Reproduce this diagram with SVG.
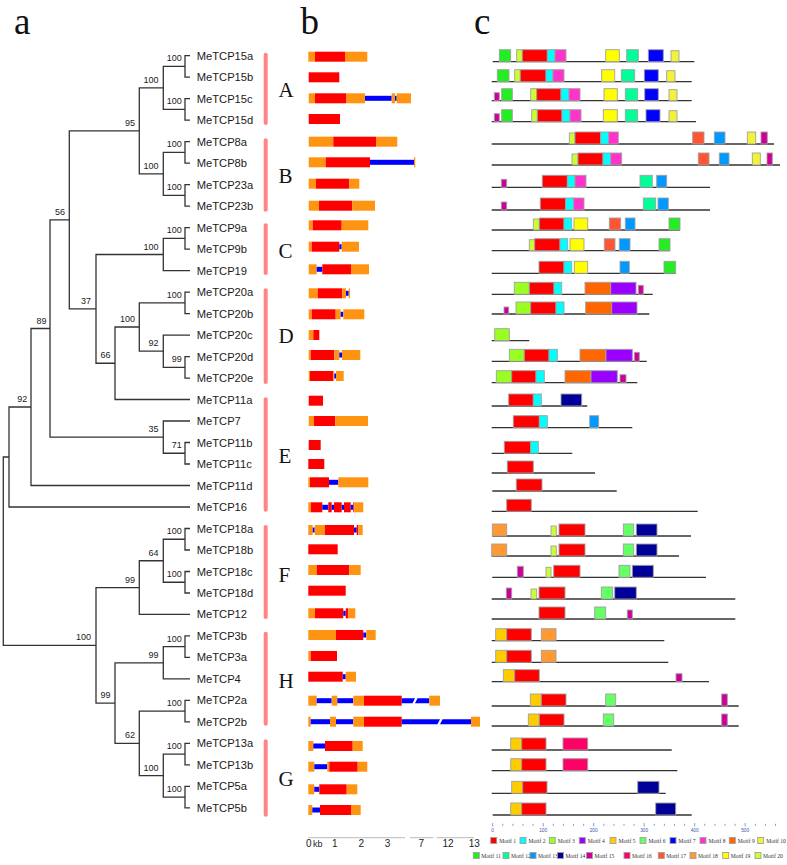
<svg xmlns="http://www.w3.org/2000/svg" width="787" height="865" viewBox="0 0 787 865">
<style>
.lbl{font-family:"Liberation Sans",Arial,sans-serif;font-size:11.2px;fill:#1a1a1a}
.bs{font-family:"Liberation Sans",Arial,sans-serif;font-size:9px;fill:#1a1a1a;text-anchor:end}
.tree path{fill:none;stroke:#333;stroke-width:1.3}
.grp{font-family:"Liberation Serif","Times New Roman",serif;font-size:21px;fill:#111}
.pan{font-family:"Liberation Serif","Times New Roman",serif;font-size:37px;fill:#111}
.gbar{fill:#ff8585}
.o{fill:#ff9412}.r{fill:#ff0000}.b{fill:#0000ff}
.pl{stroke:#333;stroke-width:1.3}
.mot rect,.leg rect{stroke:#a0a0a0;stroke-width:0.9}
.m1{fill:#ff0000}.m2{fill:#00ffff}.m3{fill:#99ff22}.m4{fill:#9900ff}.m5{fill:#ffcc00}
.m6{fill:#66ff66}.m7{fill:#0000ff}.m8{fill:#ff33cc}.m9{fill:#ff6600}.m10{fill:#f2f23a}
.m11{fill:#22ee22}.m12{fill:#00ff99}.m13{fill:#0099ff}.m14{fill:#000099}.m15{fill:#cc0099}
.m16{fill:#ff0066}.m17{fill:#ff5533}.m18{fill:#ff9933}.m19{fill:#ffff00}.m20{fill:#ccff33}
.lg{font-family:"Liberation Serif","Times New Roman",serif;font-size:5.6px;fill:#333}
.ax{font-family:"Liberation Sans",Arial,sans-serif;font-size:10px;fill:#222}
.max{font-family:"Liberation Sans",Arial,sans-serif;font-size:4.8px;fill:#4455aa;text-anchor:middle}
</style>
<rect width="787" height="865" fill="#fff"/>
<g id="panel-labels">
<text class="pan" x="14" y="34">a</text>
<text class="pan" x="300.5" y="34">b</text>
<text class="pan" x="474" y="34">c</text>
</g>
<g id="connectors" class="tree">
<path d="M190,55.7H185V77.2H190"/>
<path d="M190,98.7H185V120.2H190"/>
<path d="M185,66.45H163.3V109.45H185"/>
<path d="M190,141.7H185V163.2H190"/>
<path d="M190,184.6H185V206.1H190"/>
<path d="M185,152.45H163.3V195.35H185"/>
<path d="M163.3,87.95H139.3V173.9H163.3"/>
<path d="M190,227.6H185V249.1H190"/>
<path d="M185,238.35H163.3V270.6H190"/>
<path d="M190,292.1H185V313.6H190"/>
<path d="M190,356.6H185V378.1H190"/>
<path d="M190,335.1H163.3V367.35H185"/>
<path d="M185,302.85H139.3V351.2H163.3"/>
<path d="M139.3,327H115V399.5H190"/>
<path d="M163.3,254.5H96V363.25H115"/>
<path d="M139.3,130.9H69.3V308.9H96"/>
<path d="M190,442.5H185V464H190"/>
<path d="M190,421H163.3V453.25H185"/>
<path d="M69.3,219.9H50V437.1H163.3"/>
<path d="M50,328.5H31V485.5H190"/>
<path d="M31,407H9V507H190"/>
<path d="M190,528.5H185V550H190"/>
<path d="M190,571.5H185V593H190"/>
<path d="M185,539.25H163.3V582.25H185"/>
<path d="M163.3,560.75H139.3V614.4H190"/>
<path d="M190,635.9H185V657.4H190"/>
<path d="M185,646.65H163.3V678.9H190"/>
<path d="M190,700.4H185V721.9H190"/>
<path d="M190,743.4H185V764.9H190"/>
<path d="M190,786.4H185V807.9H190"/>
<path d="M185,754.15H163.3V797.15H185"/>
<path d="M185,711.15H139.3V775.65H163.3"/>
<path d="M163.3,662.8H115V743.4H139.3"/>
<path d="M139.3,587.6H96V703.1H115"/>
<path d="M9,457H3.3V645.35H96"/>
</g>
<g id="bootstrap">
<text class="bs" x="181.7" y="61.4">100</text>
<text class="bs" x="181.7" y="104.4">100</text>
<text class="bs" x="158.5" y="82.9">100</text>
<text class="bs" x="181.7" y="147.4">100</text>
<text class="bs" x="181.7" y="190.3">100</text>
<text class="bs" x="158.5" y="168.9">100</text>
<text class="bs" x="135" y="125.9">95</text>
<text class="bs" x="181.7" y="233.3">100</text>
<text class="bs" x="158.5" y="249.5">100</text>
<text class="bs" x="181.7" y="297.8">100</text>
<text class="bs" x="181.7" y="362.3">99</text>
<text class="bs" x="158.5" y="346.2">92</text>
<text class="bs" x="135" y="322">100</text>
<text class="bs" x="110.5" y="358.2">66</text>
<text class="bs" x="91" y="303.9">37</text>
<text class="bs" x="65" y="214.9">56</text>
<text class="bs" x="181.7" y="448.2">71</text>
<text class="bs" x="158.5" y="432.1">35</text>
<text class="bs" x="46.5" y="323.5">89</text>
<text class="bs" x="27.3" y="402">92</text>
<text class="bs" x="181.7" y="534.2">100</text>
<text class="bs" x="181.7" y="577.2">100</text>
<text class="bs" x="158.5" y="555.7">64</text>
<text class="bs" x="135" y="582.6">99</text>
<text class="bs" x="181.7" y="641.6">100</text>
<text class="bs" x="158.5" y="657.8">99</text>
<text class="bs" x="181.7" y="706.1">100</text>
<text class="bs" x="181.7" y="749.1">100</text>
<text class="bs" x="181.7" y="792.1">100</text>
<text class="bs" x="158.5" y="770.6">100</text>
<text class="bs" x="135" y="738.4">62</text>
<text class="bs" x="110.5" y="698.1">99</text>
<text class="bs" x="91" y="640.3">100</text>
</g>
<g id="nodes">
<g id="n-MeTCP15a"><text class="lbl" x="196.7" y="59.7">MeTCP15a</text></g>
<g id="n-MeTCP15b"><text class="lbl" x="196.7" y="81.2">MeTCP15b</text></g>
<g id="n-MeTCP15c"><text class="lbl" x="196.7" y="102.7">MeTCP15c</text></g>
<g id="n-MeTCP15d"><text class="lbl" x="196.7" y="124.2">MeTCP15d</text></g>
<g id="n-MeTCP8a"><text class="lbl" x="196.7" y="145.7">MeTCP8a</text></g>
<g id="n-MeTCP8b"><text class="lbl" x="196.7" y="167.2">MeTCP8b</text></g>
<g id="n-MeTCP23a"><text class="lbl" x="196.7" y="188.6">MeTCP23a</text></g>
<g id="n-MeTCP23b"><text class="lbl" x="196.7" y="210.1">MeTCP23b</text></g>
<g id="n-MeTCP9a"><text class="lbl" x="196.7" y="231.6">MeTCP9a</text></g>
<g id="n-MeTCP9b"><text class="lbl" x="196.7" y="253.1">MeTCP9b</text></g>
<g id="n-MeTCP19"><text class="lbl" x="196.7" y="274.6">MeTCP19</text></g>
<g id="n-MeTCP20a"><text class="lbl" x="196.7" y="296.1">MeTCP20a</text></g>
<g id="n-MeTCP20b"><text class="lbl" x="196.7" y="317.6">MeTCP20b</text></g>
<g id="n-MeTCP20c"><text class="lbl" x="196.7" y="339.1">MeTCP20c</text></g>
<g id="n-MeTCP20d"><text class="lbl" x="196.7" y="360.6">MeTCP20d</text></g>
<g id="n-MeTCP20e"><text class="lbl" x="196.7" y="382.1">MeTCP20e</text></g>
<g id="n-MeTCP11a"><text class="lbl" x="196.7" y="403.5">MeTCP11a</text></g>
<g id="n-MeTCP7"><text class="lbl" x="196.7" y="425">MeTCP7</text></g>
<g id="n-MeTCP11b"><text class="lbl" x="196.7" y="446.5">MeTCP11b</text></g>
<g id="n-MeTCP11c"><text class="lbl" x="196.7" y="468">MeTCP11c</text></g>
<g id="n-MeTCP11d"><text class="lbl" x="196.7" y="489.5">MeTCP11d</text></g>
<g id="n-MeTCP16"><text class="lbl" x="196.7" y="511">MeTCP16</text></g>
<g id="n-MeTCP18a"><text class="lbl" x="196.7" y="532.5">MeTCP18a</text></g>
<g id="n-MeTCP18b"><text class="lbl" x="196.7" y="554">MeTCP18b</text></g>
<g id="n-MeTCP18c"><text class="lbl" x="196.7" y="575.5">MeTCP18c</text></g>
<g id="n-MeTCP18d"><text class="lbl" x="196.7" y="597">MeTCP18d</text></g>
<g id="n-MeTCP12"><text class="lbl" x="196.7" y="618.4">MeTCP12</text></g>
<g id="n-MeTCP3b"><text class="lbl" x="196.7" y="639.9">MeTCP3b</text></g>
<g id="n-MeTCP3a"><text class="lbl" x="196.7" y="661.4">MeTCP3a</text></g>
<g id="n-MeTCP4"><text class="lbl" x="196.7" y="682.9">MeTCP4</text></g>
<g id="n-MeTCP2a"><text class="lbl" x="196.7" y="704.4">MeTCP2a</text></g>
<g id="n-MeTCP2b"><text class="lbl" x="196.7" y="725.9">MeTCP2b</text></g>
<g id="n-MeTCP13a"><text class="lbl" x="196.7" y="747.4">MeTCP13a</text></g>
<g id="n-MeTCP13b"><text class="lbl" x="196.7" y="768.9">MeTCP13b</text></g>
<g id="n-MeTCP5a"><text class="lbl" x="196.7" y="790.4">MeTCP5a</text></g>
<g id="n-MeTCP5b"><text class="lbl" x="196.7" y="811.9">MeTCP5b</text></g>
</g>
<g id="groups">
<rect class="gbar" x="263.7" y="52.7" width="4" height="72.3" rx="2"/>
<rect class="gbar" x="263.7" y="138.3" width="4" height="73.4" rx="2"/>
<rect class="gbar" x="263.7" y="223.3" width="4" height="51.7" rx="2"/>
<rect class="gbar" x="263.7" y="288.3" width="4" height="95.7" rx="2"/>
<rect class="gbar" x="263.7" y="397.3" width="4" height="114.4" rx="2"/>
<rect class="gbar" x="263.7" y="525" width="4" height="94" rx="2"/>
<rect class="gbar" x="263.7" y="631.7" width="4" height="94" rx="2"/>
<rect class="gbar" x="263.7" y="739.3" width="4" height="77.4" rx="2"/>
<text class="grp" x="278.5" y="96.7">A</text>
<text class="grp" x="278.5" y="183.3">B</text>
<text class="grp" x="278.5" y="258">C</text>
<text class="grp" x="278.5" y="343.3">D</text>
<text class="grp" x="278.5" y="463.3">E</text>
<text class="grp" x="278.5" y="581.7">F</text>
<text class="grp" x="278.5" y="688.3">H</text>
<text class="grp" x="278.5" y="786">G</text>
</g>
<g id="gene-structures">
<g transform="translate(0,56.7)"><rect class="o" x="308.3" y="-5" width="6.7" height="10"/><rect class="r" x="315" y="-5" width="30" height="10"/><rect class="o" x="345" y="-5" width="22.3" height="10"/></g>
<g transform="translate(0,77.3)"><rect class="r" x="308.7" y="-5" width="30.6" height="10"/></g>
<g transform="translate(0,98.3)"><rect class="o" x="308.7" y="-5" width="6.3" height="10"/><rect class="r" x="315" y="-5" width="31" height="10"/><rect class="o" x="346" y="-5" width="19" height="10"/><rect class="b" x="365" y="-2.5" width="26.7" height="5"/><rect class="o" x="391.7" y="-5" width="3.3" height="10"/><rect class="b" x="395" y="-2.5" width="1.7" height="5"/><rect class="o" x="396.7" y="-5" width="14.3" height="10"/></g>
<g transform="translate(0,119)"><rect class="r" x="308.7" y="-5" width="31.3" height="10"/></g>
<g transform="translate(0,141.7)"><rect class="o" x="308.7" y="-5" width="24.6" height="10"/><rect class="r" x="333.3" y="-5" width="42.7" height="10"/><rect class="o" x="376" y="-5" width="21.3" height="10"/></g>
<g transform="translate(0,162.3)"><rect class="o" x="308.7" y="-5" width="17" height="10"/><rect class="r" x="325.7" y="-5" width="44.3" height="10"/><rect class="b" x="370" y="-2.5" width="44" height="5"/><rect class="o" x="414" y="-5" width="1.3" height="10"/></g>
<g transform="translate(0,183.7)"><rect class="o" x="308.7" y="-5" width="7.3" height="10"/><rect class="r" x="316" y="-5" width="33.3" height="10"/><rect class="o" x="349.3" y="-5" width="10" height="10"/></g>
<g transform="translate(0,205.7)"><rect class="o" x="308.7" y="-5" width="10.3" height="10"/><rect class="r" x="319" y="-5" width="33.3" height="10"/><rect class="o" x="352.3" y="-5" width="22.7" height="10"/></g>
<g transform="translate(0,225.3)"><rect class="o" x="308.7" y="-5" width="4" height="10"/><rect class="r" x="312.7" y="-5" width="29" height="10"/><rect class="o" x="341.7" y="-5" width="26.6" height="10"/></g>
<g transform="translate(0,246.7)"><rect class="o" x="308.7" y="-5" width="3" height="10"/><rect class="r" x="311.7" y="-5" width="27.6" height="10"/><rect class="b" x="339.3" y="-2.5" width="2.4" height="5"/><rect class="o" x="341.7" y="-5" width="17.3" height="10"/></g>
<g transform="translate(0,269.3)"><rect class="o" x="308.7" y="-5" width="8" height="10"/><rect class="b" x="316.7" y="-2.5" width="5.6" height="5"/><rect class="r" x="322.3" y="-5" width="28.7" height="10"/><rect class="o" x="351" y="-5" width="18" height="10"/></g>
<g transform="translate(0,293.3)"><rect class="o" x="308.7" y="-5" width="9" height="10"/><rect class="r" x="317.7" y="-5" width="24.6" height="10"/><rect class="o" x="342.3" y="-5" width="3.7" height="10"/><rect class="b" x="346" y="-2.5" width="2.7" height="5"/><rect class="o" x="348.7" y="-5" width="1.3" height="10"/></g>
<g transform="translate(0,314.3)"><rect class="o" x="308.7" y="-5" width="3" height="10"/><rect class="r" x="311.7" y="-5" width="24" height="10"/><rect class="o" x="335.7" y="-5" width="5" height="10"/><rect class="b" x="340.7" y="-2.5" width="2.6" height="5"/><rect class="o" x="343.3" y="-5" width="21" height="10"/></g>
<g transform="translate(0,335)"><rect class="o" x="308.7" y="-5" width="4.6" height="10"/><rect class="r" x="313.3" y="-5" width="6" height="10"/></g>
<g transform="translate(0,355)"><rect class="o" x="308.7" y="-5" width="2" height="10"/><rect class="r" x="310.7" y="-5" width="23.6" height="10"/><rect class="o" x="334.3" y="-5" width="5" height="10"/><rect class="b" x="339.3" y="-2.5" width="2.7" height="5"/><rect class="o" x="342" y="-5" width="18.3" height="10"/></g>
<g transform="translate(0,376)"><rect class="o" x="308.7" y="-5" width="1.3" height="10"/><rect class="r" x="310" y="-5" width="23.3" height="10"/><rect class="o" x="333.3" y="-5" width="1" height="10"/><rect class="b" x="334.3" y="-2.5" width="1.7" height="5"/><rect class="o" x="336" y="-5" width="7.7" height="10"/></g>
<g transform="translate(0,400.7)"><rect class="r" x="308.7" y="-5" width="14.3" height="10"/></g>
<g transform="translate(0,421)"><rect class="o" x="308.7" y="-5" width="5.3" height="10"/><rect class="r" x="314" y="-5" width="21.3" height="10"/><rect class="o" x="335.3" y="-5" width="32.7" height="10"/></g>
<g transform="translate(0,445)"><rect class="r" x="308.7" y="-5" width="12" height="10"/></g>
<g transform="translate(0,464)"><rect class="r" x="308.3" y="-5" width="16" height="10"/></g>
<g transform="translate(0,482.3)"><rect class="o" x="308.3" y="-5" width="1.7" height="10"/><rect class="r" x="310" y="-5" width="19" height="10"/><rect class="b" x="329" y="-2.5" width="9.3" height="5"/><rect class="o" x="338.3" y="-5" width="30" height="10"/></g>
<g transform="translate(0,507.3)"><rect class="o" x="308.3" y="-5" width="2.7" height="10"/><rect class="r" x="311" y="-5" width="11.3" height="10"/><rect class="b" x="322.3" y="-2.5" width="6" height="5"/><rect class="r" x="328.3" y="-5" width="3.4" height="10"/><rect class="b" x="331.7" y="-2.5" width="2.3" height="5"/><rect class="r" x="334" y="-5" width="7.7" height="10"/><rect class="b" x="341.7" y="-2.5" width="2.3" height="5"/><rect class="r" x="344" y="-5" width="6.7" height="10"/><rect class="b" x="350.7" y="-2.5" width="2.6" height="5"/><rect class="r" x="353.3" y="-5" width="1" height="10"/><rect class="o" x="354.3" y="-5" width="9" height="10"/></g>
<g transform="translate(0,530)"><rect class="o" x="308.3" y="-5" width="4.4" height="10"/><rect class="b" x="312.7" y="-2.5" width="2" height="5"/><rect class="o" x="314.7" y="-5" width="10.3" height="10"/><rect class="r" x="325" y="-5" width="29" height="10"/><rect class="b" x="354" y="-2.5" width="2.7" height="5"/><rect class="r" x="356.7" y="-5" width="1.6" height="10"/><rect class="o" x="358.3" y="-5" width="4.4" height="10"/></g>
<g transform="translate(0,549.3)"><rect class="r" x="308.3" y="-5" width="29.4" height="10"/></g>
<g transform="translate(0,570)"><rect class="o" x="308.3" y="-5" width="8.4" height="10"/><rect class="r" x="316.7" y="-5" width="32.6" height="10"/><rect class="o" x="349.3" y="-5" width="11.4" height="10"/></g>
<g transform="translate(0,590.7)"><rect class="r" x="308.3" y="-5" width="37.4" height="10"/></g>
<g transform="translate(0,613.3)"><rect class="o" x="308.3" y="-5" width="6.7" height="10"/><rect class="r" x="315" y="-5" width="28.3" height="10"/><rect class="b" x="343.3" y="-2.5" width="2.4" height="5"/><rect class="r" x="345.7" y="-5" width="2.6" height="10"/><rect class="o" x="348.3" y="-5" width="7" height="10"/></g>
<g transform="translate(0,635)"><rect class="o" x="308.3" y="-5" width="27.7" height="10"/><rect class="r" x="336" y="-5" width="27.3" height="10"/><rect class="b" x="363.3" y="-2.5" width="3" height="5"/><rect class="o" x="366.3" y="-5" width="9.4" height="10"/></g>
<g transform="translate(0,656)"><rect class="o" x="308.3" y="-5" width="2.4" height="10"/><rect class="r" x="310.7" y="-5" width="26.3" height="10"/></g>
<g transform="translate(0,676.7)"><rect class="r" x="308.3" y="-5" width="34.4" height="10"/><rect class="b" x="342.7" y="-2.5" width="3" height="5"/><rect class="o" x="345.7" y="-5" width="10.3" height="10"/></g>
<g transform="translate(0,700.7)"><rect class="o" x="308.3" y="-5" width="8.4" height="10"/><rect class="b" x="316.7" y="-2.5" width="15" height="5"/><rect class="o" x="331.7" y="-5" width="5.6" height="10"/><rect class="b" x="337.3" y="-2.5" width="16" height="5"/><rect class="o" x="353.3" y="-5" width="10.7" height="10"/><rect class="r" x="364" y="-5" width="37.7" height="10"/><polygon class="b" points="401.7,-2.5 415,-2.5 412.5,2.5 401.7,2.5"/><polygon class="b" points="417.5,-2.5 429.3,-2.5 429.3,2.5 415,2.5"/><rect class="o" x="429.3" y="-5" width="10.7" height="10"/></g>
<g transform="translate(0,721.7)"><rect class="o" x="308.3" y="-5" width="2.4" height="10"/><rect class="b" x="310.7" y="-2.5" width="19.3" height="5"/><rect class="o" x="330" y="-5" width="6" height="10"/><rect class="b" x="336" y="-2.5" width="17.3" height="5"/><rect class="o" x="353.3" y="-5" width="10.7" height="10"/><rect class="r" x="364" y="-5" width="37.7" height="10"/><polygon class="b" points="401.7,-2.5 440,-2.5 437.5,2.5 401.7,2.5"/><polygon class="b" points="442.5,-2.5 471,-2.5 471,2.5 440,2.5"/><rect class="o" x="471" y="-5" width="9" height="10"/></g>
<g transform="translate(0,746)"><rect class="o" x="308.3" y="-5" width="5" height="10"/><rect class="b" x="313.3" y="-2.5" width="11.7" height="5"/><rect class="r" x="325" y="-5" width="27.7" height="10"/><rect class="o" x="352.7" y="-5" width="10" height="10"/></g>
<g transform="translate(0,766.7)"><rect class="o" x="308.3" y="-5" width="6" height="10"/><rect class="b" x="314.3" y="-2.5" width="13" height="5"/><rect class="o" x="327.3" y="-5" width="2" height="10"/><rect class="r" x="329.3" y="-5" width="28.4" height="10"/><rect class="o" x="357.7" y="-5" width="9.6" height="10"/></g>
<g transform="translate(0,789.3)"><rect class="o" x="308.3" y="-5" width="6" height="10"/><rect class="b" x="314.3" y="-2.5" width="5" height="5"/><rect class="r" x="319.3" y="-5" width="27.4" height="10"/><rect class="o" x="346.7" y="-5" width="10.6" height="10"/></g>
<g transform="translate(0,810)"><rect class="o" x="308.3" y="-5" width="4" height="10"/><rect class="b" x="312.3" y="-2.5" width="7.7" height="5"/><rect class="r" x="320" y="-5" width="31" height="10"/><rect class="o" x="351" y="-5" width="9.7" height="10"/></g>
</g>
<g id="kb-axis">
<path d="M308.3,837.7H405M410,837.7H433.3M436.7,837.7H474" stroke="#c8c8c8" stroke-width="1.2" fill="none"/>
<text class="ax" x="305.9" y="847.3">0</text>
<text class="ax" x="313" y="847.3" style="font-size:9px">kb</text>
<text class="ax" x="334.7" y="847.3" text-anchor="middle">1</text>
<text class="ax" x="361.2" y="847.3" text-anchor="middle">2</text>
<text class="ax" x="387.5" y="847.3" text-anchor="middle">3</text>
<text class="ax" x="421.2" y="847.3" text-anchor="middle">7</text>
<text class="ax" x="448" y="847.3" text-anchor="middle">12</text>
<text class="ax" x="474.2" y="847.3" text-anchor="middle">13</text>
</g>
<g id="motifs" class="mot">
<g transform="translate(0,61.7)"><line class="pl" x1="492.7" x2="694.3" y1="0" y2="0"/><rect class="m11" x="499.3" y="-12" width="11.4" height="12"/><rect class="m20" x="516.7" y="-12" width="5.6" height="12"/><rect class="m1" x="522.3" y="-12" width="25" height="12"/><rect class="m2" x="547.3" y="-12" width="7.7" height="12"/><rect class="m8" x="555" y="-12" width="11" height="12"/><rect class="m19" x="605.7" y="-12" width="13.6" height="12"/><rect class="m12" x="626.7" y="-12" width="11.6" height="12"/><rect class="m7" x="648.3" y="-12" width="15" height="12"/><rect class="m10" x="671" y="-11" width="8" height="11"/></g>
<g transform="translate(0,81.7)"><line class="pl" x1="491.7" x2="691.7" y1="0" y2="0"/><rect class="m11" x="497.3" y="-12" width="11.7" height="12"/><rect class="m20" x="514.7" y="-12" width="5.6" height="12"/><rect class="m1" x="520.3" y="-12" width="25.7" height="12"/><rect class="m2" x="546" y="-12" width="7" height="12"/><rect class="m8" x="553" y="-12" width="11" height="12"/><rect class="m19" x="601.7" y="-12" width="13" height="12"/><rect class="m12" x="621.3" y="-12" width="13.4" height="12"/><rect class="m7" x="644.3" y="-12" width="14" height="12"/><rect class="m10" x="666.7" y="-11" width="8.3" height="11"/></g>
<g transform="translate(0,100.7)"><line class="pl" x1="491.7" x2="691.7" y1="0" y2="0"/><rect class="m15" x="494.3" y="-8" width="5" height="8"/><rect class="m11" x="501.7" y="-12" width="10.6" height="12"/><rect class="m20" x="530.7" y="-12" width="6" height="12"/><rect class="m1" x="536.7" y="-12" width="24.3" height="12"/><rect class="m2" x="561" y="-12" width="8" height="12"/><rect class="m8" x="569" y="-12" width="11" height="12"/><rect class="m19" x="604" y="-12" width="13.3" height="12"/><rect class="m12" x="625.3" y="-12" width="12.4" height="12"/><rect class="m7" x="644.7" y="-12" width="13.6" height="12"/><rect class="m10" x="669" y="-11" width="8" height="11"/></g>
<g transform="translate(0,121.7)"><line class="pl" x1="491.7" x2="696" y1="0" y2="0"/><rect class="m15" x="494.3" y="-8" width="5" height="8"/><rect class="m11" x="501.7" y="-12" width="10.6" height="12"/><rect class="m20" x="531.7" y="-12" width="5.6" height="12"/><rect class="m1" x="537.3" y="-12" width="24.7" height="12"/><rect class="m2" x="562" y="-12" width="8" height="12"/><rect class="m8" x="570" y="-12" width="11" height="12"/><rect class="m19" x="603.3" y="-12" width="14" height="12"/><rect class="m12" x="625.3" y="-12" width="12.4" height="12"/><rect class="m7" x="646" y="-12" width="14" height="12"/><rect class="m10" x="669" y="-11" width="8" height="11"/></g>
<g transform="translate(0,144)"><line class="pl" x1="491.7" x2="774" y1="0" y2="0"/><rect class="m20" x="569.3" y="-11" width="5.7" height="11"/><rect class="m1" x="575" y="-12" width="25.7" height="12"/><rect class="m2" x="600.7" y="-12" width="8" height="12"/><rect class="m8" x="608.7" y="-12" width="9.6" height="12"/><rect class="m17" x="692.7" y="-12" width="11.3" height="12"/><rect class="m13" x="714.3" y="-12" width="10.7" height="12"/><rect class="m10" x="747.3" y="-12" width="8.4" height="12"/><rect class="m15" x="761" y="-12" width="6.3" height="12"/></g>
<g transform="translate(0,165)"><line class="pl" x1="491.7" x2="780" y1="0" y2="0"/><rect class="m20" x="572" y="-11" width="6" height="11"/><rect class="m1" x="578" y="-12" width="25" height="12"/><rect class="m2" x="603" y="-12" width="7.7" height="12"/><rect class="m8" x="610.7" y="-12" width="11" height="12"/><rect class="m17" x="698.3" y="-12" width="10.7" height="12"/><rect class="m13" x="719.3" y="-12" width="9.7" height="12"/><rect class="m10" x="752.3" y="-12" width="8" height="12"/><rect class="m15" x="767" y="-12" width="5.3" height="12"/></g>
<g transform="translate(0,187.3)"><line class="pl" x1="491.7" x2="710" y1="0" y2="0"/><rect class="m15" x="501.3" y="-8" width="5.4" height="8"/><rect class="m1" x="542.3" y="-12" width="25" height="12"/><rect class="m2" x="567.3" y="-12" width="7.7" height="12"/><rect class="m8" x="575" y="-12" width="11" height="12"/><rect class="m12" x="640" y="-12" width="12.3" height="12"/><rect class="m13" x="656.7" y="-12" width="10" height="12"/></g>
<g transform="translate(0,210)"><line class="pl" x1="491.7" x2="710" y1="0" y2="0"/><rect class="m15" x="501.3" y="-8" width="5.4" height="8"/><rect class="m1" x="540.3" y="-12" width="25.4" height="12"/><rect class="m2" x="565.7" y="-12" width="8" height="12"/><rect class="m8" x="573.7" y="-12" width="10.3" height="12"/><rect class="m12" x="643.3" y="-12" width="12.4" height="12"/><rect class="m13" x="658" y="-12" width="10.3" height="12"/></g>
<g transform="translate(0,230)"><line class="pl" x1="491.7" x2="680" y1="0" y2="0"/><rect class="m20" x="533.3" y="-11" width="6" height="11"/><rect class="m1" x="539.3" y="-12" width="24.7" height="12"/><rect class="m2" x="564" y="-12" width="7.7" height="12"/><rect class="m19" x="574" y="-12" width="13.7" height="12"/><rect class="m17" x="609.3" y="-12" width="11.4" height="12"/><rect class="m13" x="625.3" y="-12" width="9.7" height="12"/><rect class="m11" x="669" y="-12" width="11" height="12"/></g>
<g transform="translate(0,250.7)"><line class="pl" x1="491.7" x2="670" y1="0" y2="0"/><rect class="m20" x="529.3" y="-11" width="5.4" height="11"/><rect class="m1" x="534.7" y="-12" width="25.3" height="12"/><rect class="m2" x="560" y="-12" width="7.7" height="12"/><rect class="m19" x="570" y="-12" width="14" height="12"/><rect class="m17" x="604.3" y="-12" width="10.7" height="12"/><rect class="m13" x="619.3" y="-12" width="10.7" height="12"/><rect class="m11" x="659" y="-12" width="11" height="12"/></g>
<g transform="translate(0,273.3)"><line class="pl" x1="491.7" x2="675.7" y1="0" y2="0"/><rect class="m1" x="539" y="-12" width="25" height="12"/><rect class="m2" x="564" y="-12" width="7.7" height="12"/><rect class="m19" x="574.3" y="-12" width="13.4" height="12"/><rect class="m13" x="620" y="-12" width="9.3" height="12"/><rect class="m11" x="664" y="-12" width="11.7" height="12"/></g>
<g transform="translate(0,294.3)"><line class="pl" x1="491.7" x2="652.7" y1="0" y2="0"/><rect class="m3" x="514.3" y="-12" width="15" height="12"/><rect class="m1" x="529.3" y="-12" width="24.7" height="12"/><rect class="m2" x="554" y="-12" width="7.7" height="12"/><rect class="m9" x="585" y="-12" width="25.7" height="12"/><rect class="m4" x="610.7" y="-12" width="25.3" height="12"/><rect class="m15" x="638.3" y="-9" width="5" height="9"/></g>
<g transform="translate(0,314)"><line class="pl" x1="491.7" x2="649.3" y1="0" y2="0"/><rect class="m15" x="504" y="-7" width="4.7" height="7"/><rect class="m3" x="516" y="-12" width="14.7" height="12"/><rect class="m1" x="530.7" y="-12" width="25.3" height="12"/><rect class="m2" x="556" y="-12" width="8" height="12"/><rect class="m9" x="585.7" y="-12" width="26" height="12"/><rect class="m4" x="611.7" y="-12" width="25.3" height="12"/></g>
<g transform="translate(0,340.7)"><line class="pl" x1="491.7" x2="529.3" y1="0" y2="0"/><rect class="m3" x="494.7" y="-12" width="14.6" height="12"/></g>
<g transform="translate(0,361.3)"><line class="pl" x1="491.7" x2="646.7" y1="0" y2="0"/><rect class="m3" x="509.3" y="-12" width="15" height="12"/><rect class="m1" x="524.3" y="-12" width="24.7" height="12"/><rect class="m2" x="549" y="-12" width="8.3" height="12"/><rect class="m9" x="580" y="-12" width="26" height="12"/><rect class="m4" x="606" y="-12" width="26.3" height="12"/><rect class="m15" x="634.3" y="-9" width="5" height="9"/></g>
<g transform="translate(0,382.7)"><line class="pl" x1="491.7" x2="637.3" y1="0" y2="0"/><rect class="m3" x="496.3" y="-12" width="15.4" height="12"/><rect class="m1" x="511.7" y="-12" width="24.3" height="12"/><rect class="m2" x="536" y="-12" width="8.3" height="12"/><rect class="m9" x="565" y="-12" width="26" height="12"/><rect class="m4" x="591" y="-12" width="26.3" height="12"/><rect class="m15" x="620" y="-8" width="6" height="8"/></g>
<g transform="translate(0,406)"><line class="pl" x1="491.7" x2="587.3" y1="0" y2="0"/><rect class="m1" x="508.7" y="-12" width="24.6" height="12"/><rect class="m2" x="533.3" y="-12" width="8" height="12"/><rect class="m14" x="561" y="-12" width="20.7" height="12"/></g>
<g transform="translate(0,427.7)"><line class="pl" x1="491.7" x2="632.3" y1="0" y2="0"/><rect class="m1" x="513.3" y="-12" width="26" height="12"/><rect class="m2" x="539.3" y="-12" width="8" height="12"/><rect class="m13" x="589.7" y="-12" width="9" height="12"/></g>
<g transform="translate(0,453.3)"><line class="pl" x1="491.7" x2="572.3" y1="0" y2="0"/><rect class="m1" x="504.3" y="-12" width="26.4" height="12"/><rect class="m2" x="530.7" y="-12" width="7.6" height="12"/></g>
<g transform="translate(0,473)"><line class="pl" x1="491.7" x2="595" y1="0" y2="0"/><rect class="m1" x="507.3" y="-12" width="26" height="12"/></g>
<g transform="translate(0,491)"><line class="pl" x1="492.3" x2="616.7" y1="0" y2="0"/><rect class="m1" x="516.3" y="-12" width="25.7" height="12"/></g>
<g transform="translate(0,511.3)"><line class="pl" x1="491.7" x2="697.7" y1="0" y2="0"/><rect class="m1" x="506.7" y="-12" width="24.6" height="12"/></g>
<g transform="translate(0,536)"><line class="pl" x1="492.3" x2="691" y1="0" y2="0"/><rect class="m18" x="492.3" y="-12" width="14.4" height="12"/><rect class="m20" x="551" y="-10" width="5.3" height="10"/><rect class="m1" x="559" y="-12" width="26" height="12"/><rect class="m6" x="623.3" y="-12" width="10.4" height="12"/><rect class="m14" x="636.3" y="-12" width="20.7" height="12"/></g>
<g transform="translate(0,556)"><line class="pl" x1="491.7" x2="679" y1="0" y2="0"/><rect class="m18" x="491.7" y="-12" width="15" height="12"/><rect class="m20" x="551" y="-10" width="5.3" height="10"/><rect class="m1" x="559" y="-12" width="26" height="12"/><rect class="m6" x="623.3" y="-12" width="10.4" height="12"/><rect class="m14" x="636.3" y="-12" width="20.7" height="12"/></g>
<g transform="translate(0,577.3)"><line class="pl" x1="492.3" x2="706" y1="0" y2="0"/><rect class="m15" x="517.3" y="-11" width="6" height="11"/><rect class="m20" x="546" y="-10" width="5" height="10"/><rect class="m1" x="553.7" y="-12" width="26.3" height="12"/><rect class="m6" x="619" y="-12" width="11" height="12"/><rect class="m14" x="632.3" y="-12" width="21" height="12"/></g>
<g transform="translate(0,599)"><line class="pl" x1="491.7" x2="735.3" y1="0" y2="0"/><rect class="m15" x="506.3" y="-11" width="5.4" height="11"/><rect class="m20" x="531" y="-10" width="5.7" height="10"/><rect class="m1" x="539" y="-12" width="26" height="12"/><rect class="m6" x="601.3" y="-12" width="11.4" height="12"/><rect class="m14" x="614.7" y="-12" width="21.6" height="12"/></g>
<g transform="translate(0,619)"><line class="pl" x1="491.7" x2="735.3" y1="0" y2="0"/><rect class="m1" x="539" y="-12" width="26" height="12"/><rect class="m6" x="594.7" y="-12" width="11" height="12"/><rect class="m15" x="627.3" y="-9" width="5" height="9"/></g>
<g transform="translate(0,640.7)"><line class="pl" x1="491.7" x2="664.3" y1="0" y2="0"/><rect class="m5" x="495.7" y="-12" width="11" height="12"/><rect class="m1" x="506.7" y="-12" width="24.6" height="12"/><rect class="m18" x="541.3" y="-12" width="14.7" height="12"/></g>
<g transform="translate(0,662.3)"><line class="pl" x1="491.7" x2="668.3" y1="0" y2="0"/><rect class="m5" x="495.7" y="-12" width="11" height="12"/><rect class="m1" x="506.7" y="-12" width="24.6" height="12"/><rect class="m18" x="541.3" y="-12" width="14.7" height="12"/></g>
<g transform="translate(0,681.7)"><line class="pl" x1="491.7" x2="709" y1="0" y2="0"/><rect class="m5" x="503.3" y="-12" width="11.4" height="12"/><rect class="m1" x="514.7" y="-12" width="24.6" height="12"/><rect class="m15" x="676" y="-8" width="6" height="8"/></g>
<g transform="translate(0,706)"><line class="pl" x1="491.7" x2="738.7" y1="0" y2="0"/><rect class="m5" x="530.3" y="-12" width="11" height="12"/><rect class="m1" x="541.3" y="-12" width="24.7" height="12"/><rect class="m6" x="605.7" y="-12" width="10" height="12"/><rect class="m15" x="721.7" y="-12" width="5.6" height="12"/></g>
<g transform="translate(0,726)"><line class="pl" x1="491.7" x2="738.7" y1="0" y2="0"/><rect class="m5" x="528.3" y="-12" width="11" height="12"/><rect class="m1" x="539.3" y="-12" width="24.7" height="12"/><rect class="m6" x="603.3" y="-12" width="10.4" height="12"/><rect class="m15" x="721.7" y="-12" width="5.6" height="12"/></g>
<g transform="translate(0,750)"><line class="pl" x1="491.7" x2="671.7" y1="0" y2="0"/><rect class="m5" x="510.7" y="-12" width="11" height="12"/><rect class="m1" x="521.7" y="-12" width="24.3" height="12"/><rect class="m16" x="563" y="-12" width="24.7" height="12"/></g>
<g transform="translate(0,770.7)"><line class="pl" x1="491.7" x2="677.3" y1="0" y2="0"/><rect class="m5" x="510.7" y="-12" width="11" height="12"/><rect class="m1" x="521.7" y="-12" width="24.3" height="12"/><rect class="m16" x="563" y="-12" width="24.7" height="12"/></g>
<g transform="translate(0,793.3)"><line class="pl" x1="491.7" x2="665.7" y1="0" y2="0"/><rect class="m5" x="511.7" y="-12" width="11" height="12"/><rect class="m1" x="522.7" y="-12" width="24.3" height="12"/><rect class="m14" x="637.7" y="-12" width="21.3" height="12"/></g>
<g transform="translate(0,815)"><line class="pl" x1="492.7" x2="691.7" y1="0" y2="0"/><rect class="m5" x="510.7" y="-12" width="11" height="12"/><rect class="m1" x="521.7" y="-12" width="24.3" height="12"/><rect class="m14" x="655.7" y="-12" width="20" height="12"/></g>
</g>
<g id="aa-axis">
<path d="M492.7,823v3.5M502.8,823.8v2M512.9,823.8v2M523,823.8v2M533.1,823.8v2M543.2,823v3.5M553.3,823.8v2M563.4,823.8v2M573.5,823.8v2M583.6,823.8v2M593.7,823v3.5M603.8,823.8v2M613.9,823.8v2M624,823.8v2M634.1,823.8v2M644.2,823v3.5M654.3,823.8v2M664.4,823.8v2M674.5,823.8v2M684.6,823.8v2M694.7,823v3.5M704.8,823.8v2M714.9,823.8v2M725,823.8v2M735.1,823.8v2M745.2,823v3.5M755.3,823.8v2M765.4,823.8v2M775.5,823.8v2" stroke="#8090c8" stroke-width="0.9" fill="none"/>
<text class="max" x="492.7" y="831.8">0</text>
<text class="max" x="543.2" y="831.8">100</text>
<text class="max" x="593.7" y="831.8">200</text>
<text class="max" x="644.2" y="831.8">300</text>
<text class="max" x="694.7" y="831.8">400</text>
<text class="max" x="745.2" y="831.8">500</text>
</g>
<g id="legend" class="leg">
<rect class="m1" x="490.7" y="837.5" width="6" height="6"/><text class="lg" x="499.2" y="843.3">Motif 1</text>
<rect class="m2" x="520" y="837.5" width="6" height="6"/><text class="lg" x="528.5" y="843.3">Motif 2</text>
<rect class="m3" x="549.3" y="837.5" width="6" height="6"/><text class="lg" x="557.8" y="843.3">Motif 3</text>
<rect class="m4" x="579.3" y="837.5" width="6" height="6"/><text class="lg" x="587.8" y="843.3">Motif 4</text>
<rect class="m5" x="610" y="837.5" width="6" height="6"/><text class="lg" x="618.5" y="843.3">Motif 5</text>
<rect class="m6" x="640" y="837.5" width="6" height="6"/><text class="lg" x="648.5" y="843.3">Motif 6</text>
<rect class="m7" x="670" y="837.5" width="6" height="6"/><text class="lg" x="678.5" y="843.3">Motif 7</text>
<rect class="m8" x="700" y="837.5" width="6" height="6"/><text class="lg" x="708.5" y="843.3">Motif 8</text>
<rect class="m9" x="729.3" y="837.5" width="6" height="6"/><text class="lg" x="737.8" y="843.3">Motif 9</text>
<rect class="m10" x="757.7" y="837.5" width="6" height="6"/><text class="lg" x="766.2" y="843.3">Motif 10</text>
<rect class="m11" x="473.3" y="852.5" width="6" height="6"/><text class="lg" x="481.3" y="858.3">Motif 11</text>
<rect class="m12" x="503" y="852.5" width="6" height="6"/><text class="lg" x="511" y="858.3">Motif 12</text>
<rect class="m13" x="530" y="852.5" width="6" height="6"/><text class="lg" x="538" y="858.3">Motif 13</text>
<rect class="m14" x="557.5" y="852.5" width="6" height="6"/><text class="lg" x="565.5" y="858.3">Motif 14</text>
<rect class="m15" x="586.5" y="852.5" width="6" height="6"/><text class="lg" x="594.5" y="858.3">Motif 15</text>
<rect class="m16" x="624" y="852.5" width="6" height="6"/><text class="lg" x="632" y="858.3">Motif 16</text>
<rect class="m17" x="658.3" y="852.5" width="6" height="6"/><text class="lg" x="666.3" y="858.3">Motif 17</text>
<rect class="m18" x="690" y="852.5" width="6" height="6"/><text class="lg" x="698" y="858.3">Motif 18</text>
<rect class="m19" x="722.7" y="852.5" width="6" height="6"/><text class="lg" x="730.7" y="858.3">Motif 19</text>
<rect class="m20" x="755" y="852.5" width="6" height="6"/><text class="lg" x="763" y="858.3">Motif 20</text>
</g>
</svg>
